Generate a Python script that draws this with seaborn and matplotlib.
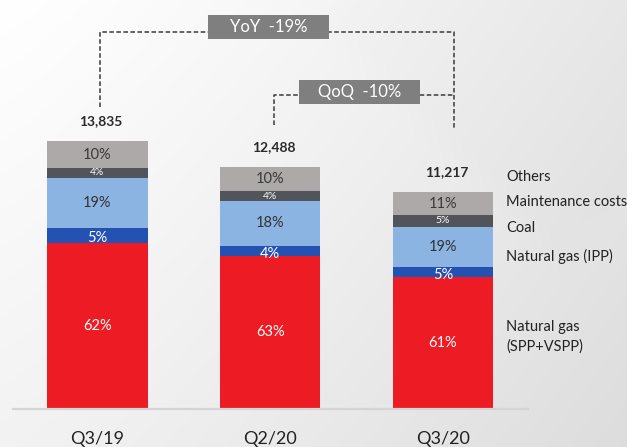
import numpy as np
import pandas as pd
import matplotlib
matplotlib.use("Agg")
import matplotlib.pyplot as plt
from matplotlib.patches import Rectangle
import seaborn as sns

# ---------------- data ----------------
categories = ["Q3/19", "Q2/20", "Q3/20"]
totals = [13835, 12488, 11217]
total_labels = ["13,835", "12,488", "11,217"]
gas_spp = [8590, 7930, 6809]
gas_ipp = [760, 512, 516]
coal = [2615, 2298, 2109]
maintenance = [500, 512, 572]
others = [1370, 1236, 1211]
pct_spp = ["62%", "63%", "61%"]
pct_ipp = ["5%", "4%", "5%"]
pct_coal = ["19%", "18%", "19%"]
pct_maint = ["4%", "4%", "5%"]
pct_others = ["10%", "10%", "11%"]
series_names = ["Others", "Maintenance costs", "Coal", "Natural gas (IPP)",
                "Natural gas\n(SPP+VSPP)"]
yoy_text = "YoY  -19%"
qoq_text = "QoQ  -10%"

# ---------------- style ----------------
sns.set_theme(style="white")
plt.rcParams["font.family"] = ["Lato", "DejaVu Sans"]

C_RED = "#ED1C24"
C_DBLUE = "#2452B2"
C_LBLUE = "#8CB4E2"
C_DGRAY = "#52545C"
C_LGRAY = "#ADA9A8"

W, H = 627, 447
fig = plt.figure(figsize=(W / 100, H / 100), dpi=100)

# background gradient
bg = fig.add_axes([0, 0, 1, 1])
yy, xx = np.mgrid[0:H, 0:W]
g = 1.0 - 0.085 * (xx / W) ** 1.2 - 0.05 * (yy / H)
# very faint diamond in the upper right
d = np.abs(xx - 560) + np.abs(yy - 20)
g = g - 0.008 * np.clip((260 - d) / 40.0, 0, 1)
img = np.dstack([g, g, g])
bg.imshow(img, extent=[0, W, H, 0], aspect="auto", interpolation="bilinear")
bg.axis("off")

# main axes: baseline at pixel 409 from top
base_px = 409
ax = fig.add_axes([0, (H - base_px) / H, 1, base_px / H])
ax.patch.set_alpha(0)

scale = 51.7  # value units per pixel
x0_px, step_px = 97.5, 172.75


def px_x(p):
    return (p - x0_px) / step_px


def px_y(p):
    return (base_px - p) * scale


layers_bottom_up = [gas_spp, gas_ipp, coal, maintenance, others]
colors_bottom_up = [C_RED, C_DBLUE, C_LBLUE, C_DGRAY, C_LGRAY]
cum = np.cumsum(np.array(layers_bottom_up, dtype=float), axis=0)

# draw cumulative bars from top layer down so lower layers overlay
for k in range(len(layers_bottom_up) - 1, -1, -1):
    df = pd.DataFrame({"cat": categories, "val": cum[k]})
    sns.barplot(data=df, x="cat", y="val", order=categories, color=colors_bottom_up[k],
                saturation=1, width=0.58, linewidth=0, errorbar=None, ax=ax)

ax.set_xlim(px_x(0), px_x(W))
ax.set_ylim(0, px_y(0))
for s in ax.spines.values():
    s.set_visible(False)
ax.set_yticks([])
ax.set_xlabel("")
ax.set_ylabel("")
ax.tick_params(axis="x", length=0, pad=16, labelsize=13, labelcolor="#222222")

# baseline
ax.plot([px_x(12), px_x(529)], [0, 0], color="#D4D4D4", lw=1.6, zorder=5,
        solid_capstyle="butt", clip_on=False)

# percentage labels
pct_lists = [pct_spp, pct_ipp, pct_coal, pct_maint, pct_others]
txt_colors = ["white", "white", "#333333", "white", "#3A3A3A"]
txt_sizes = [10.5, 10.5, 10.5, 7.5, 10.5]
offsets = [0, -3 * scale, 0, 0, 0]
for k in range(5):
    for i in range(3):
        bottom = cum[k - 1][i] if k > 0 else 0
        yc = bottom + layers_bottom_up[k][i] / 2 + offsets[k]
        ax.text(i, yc, pct_lists[k][i], ha="center", va="center",
                color=txt_colors[k], fontsize=txt_sizes[k], zorder=6)

# totals
for i in range(3):
    ax.text(i + 0.02, totals[i] + 20 * scale, total_labels[i], ha="center", va="center",
            fontsize=10, fontweight="bold", color="#2A2A2A", zorder=6)

# legend-style labels at the right
legend_px = [177, 202, 228, 256, 337]
for name, py in zip(series_names, legend_px):
    ax.text(px_x(506), px_y(py), name, ha="left", va="center", fontsize=10.5,
            color="#222222", linespacing=1.5, clip_on=False)

# dashed brackets
dash_kw = dict(color="#3A3A3A", lw=1.1, linestyle=(0, (3, 1.6)), zorder=3, clip_on=False)
ax.plot([px_x(100), px_x(100), px_x(454), px_x(454)],
        [px_y(107), px_y(32), px_y(32), px_y(129)], **dash_kw)
ax.plot([px_x(274), px_x(274), px_x(454)],
        [px_y(125), px_y(95), px_y(95)], **dash_kw)

# boxes
for (l, t, r, b), label in [((208, 15, 329, 39), yoy_text), ((299, 80, 420, 104), qoq_text)]:
    ax.add_patch(Rectangle((px_x(l), px_y(b)), px_x(r) - px_x(l), px_y(t) - px_y(b),
                           facecolor="#7F7F7F", edgecolor="none", zorder=4, clip_on=False))
    ax.text((px_x(l) + px_x(r)) / 2, (px_y(t) + px_y(b)) / 2, label, ha="center",
            va="center", color="white", fontsize=12, zorder=5)

fig.savefig("out.png", dpi=100)
